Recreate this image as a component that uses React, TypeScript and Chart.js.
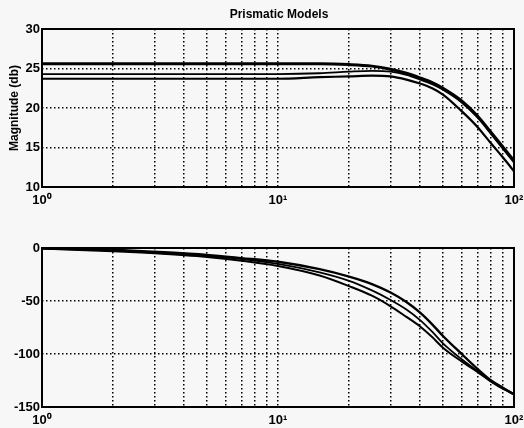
import React, { useEffect, useRef } from "react";
import { Chart, registerables } from "chart.js";

Chart.register(...registerables);

// ---- data ----
const freq = [1, 2, 3, 5, 7, 10, 15, 20, 25, 30, 35, 40, 45, 50, 60, 70, 80, 90, 100];

const magA = [25.6, 25.6, 25.6, 25.6, 25.6, 25.6, 25.6, 25.5, 25.3, 24.9, 24.4, 23.8, 23.2, 22.5, 20.9, 19.0, 16.9, 15.0, 13.3];
const magB = [24.3, 24.3, 24.3, 24.3, 24.3, 24.3, 24.4, 24.6, 24.7, 24.6, 24.2, 23.6, 23.0, 22.3, 20.7, 18.8, 16.7, 14.8, 13.1];
const magC = [23.7, 23.7, 23.7, 23.7, 23.7, 23.7, 23.9, 24.0, 24.1, 24.0, 23.6, 23.1, 22.5, 21.7, 19.6, 17.6, 15.5, 13.7, 12.0];

const phaseA = [0, -1.5, -3.5, -6.5, -9.5, -13, -20, -27, -34, -42, -51, -61, -72, -83, -100, -114, -125, -132, -138];
const phaseB = [-0.5, -2.5, -4.5, -7.5, -10.5, -15, -23, -31, -40, -49, -58, -68, -79, -90, -105, -116, -126, -132, -138];
const phaseC = [-0.5, -3, -5, -8.5, -12, -17, -26, -36, -45, -55, -65, -74, -84, -94, -107, -117, -126, -133, -138];

const xTicks = [1, 2, 3, 4, 5, 6, 7, 8, 9, 10, 20, 30, 40, 50, 60, 70, 80, 90, 100];
const xLabels: Record<number, string> = { 1: "10\u2070", 10: "10\u00B9", 100: "10\u00B2" };

const magTicks = [10, 15, 20, 25, 30];
const phaseTicks = [-150, -100, -50, 0];

const title = "Prismatic Models";
const magLabel = "Magnitude (db)";

const BG = "#f7f7f7";
const FONT = "'Liberation Sans', Arial, sans-serif";

function pts(ys: number[]) {
  return freq.map((f, i) => ({ x: f, y: ys[i] }));
}

function makeOptions(yMin: number, yMax: number, yTicks: number[], xAxisHeight: number, padTop: number) {
  return {
    responsive: false,
    animation: false as const,
    layout: { padding: { top: padTop, right: 10, left: 0, bottom: 0 } },
    plugins: { legend: { display: false }, title: { display: false }, tooltip: { enabled: false } },
    elements: { point: { radius: 0 } },
    scales: {
      x: {
        type: "logarithmic" as const,
        min: 1,
        max: 100,
        afterBuildTicks: (scale: any) => {
          scale.ticks = xTicks.map((v) => ({ value: v }));
        },
        afterFit: (scale: any) => {
          scale.height = xAxisHeight;
          scale.paddingLeft = 0;
          scale.paddingRight = 0;
        },
        ticks: {
          autoSkip: false,
          maxRotation: 0,
          padding: 6,
          color: "#000",
          font: { family: FONT, size: 13, weight: "bold" as const },
          callback: (v: any) => xLabels[Number(v)] ?? "",
        },
        grid: { color: "#000", lineWidth: 1.5, drawTicks: false, tickLength: 0 },
        border: { display: false, dash: [1.5, 2.5] },
      },
      y: {
        min: yMin,
        max: yMax,
        afterBuildTicks: (scale: any) => {
          scale.ticks = yTicks.map((v) => ({ value: v }));
        },
        afterFit: (scale: any) => {
          scale.width = 42;
          scale.paddingTop = 0;
          scale.paddingBottom = 0;
        },
        ticks: {
          padding: 2,
          color: "#000",
          font: { family: FONT, size: 13, weight: "bold" as const },
        },
        grid: { color: "#000", lineWidth: 1.5, drawTicks: false, tickLength: 0 },
        border: { display: false, dash: [1.5, 2.5] },
      },
    },
  };
}

const framePlugin = (extra?: (chart: any) => void) => ({
  id: "frame",
  beforeDraw(chart: any) {
    const ctx = chart.ctx;
    ctx.save();
    ctx.fillStyle = BG;
    ctx.fillRect(0, 0, chart.width, chart.height);
    ctx.restore();
  },
  afterDraw(chart: any) {
    const { ctx, chartArea } = chart;
    ctx.save();
    ctx.strokeStyle = "#000";
    ctx.lineWidth = 2;
    ctx.setLineDash([]);
    ctx.strokeRect(chartArea.left, chartArea.top, chartArea.right - chartArea.left, chartArea.bottom - chartArea.top);
    if (extra) extra(chart);
    ctx.restore();
  },
});

function ds(data: number[], w: number) {
  return {
    data: pts(data),
    borderColor: "#000",
    borderWidth: w,
    pointRadius: 0,
    fill: false,
    cubicInterpolationMode: "monotone" as const,
  };
}

export default function App() {
  const ref1 = useRef<HTMLCanvasElement>(null);
  const ref2 = useRef<HTMLCanvasElement>(null);

  useEffect(() => {
    const c1 = new Chart(ref1.current!, {
      type: "line",
      data: { datasets: [ds(magC, 2.2), ds(magB, 1.8), ds(magA, 3)] },
      options: makeOptions(10, 30, magTicks, 28, 29) as any,
      plugins: [
        framePlugin((chart) => {
          const ctx = chart.ctx;
          ctx.fillStyle = "#000";
          ctx.font = `bold 12px ${FONT}`;
          ctx.textAlign = "center";
          ctx.textBaseline = "middle";
          ctx.fillText(title, 279, 15);
          ctx.save();
          ctx.translate(15, 108);
          ctx.rotate(-Math.PI / 2);
          ctx.fillText(magLabel, 0, 0);
          ctx.restore();
        }),
      ],
    });
    const c2 = new Chart(ref2.current!, {
      type: "line",
      data: { datasets: [ds(phaseC, 2), ds(phaseB, 1.8), ds(phaseA, 2.4)] },
      options: makeOptions(-150, 0, phaseTicks, 21, 33) as any,
      plugins: [framePlugin()],
    });
    return () => {
      c1.destroy();
      c2.destroy();
    };
  }, []);

  return (
    <div style={{ position: "fixed", left: 0, top: 0, width: 524, height: 428, background: BG }}>
      <canvas ref={ref1} width={524} height={215} style={{ position: "absolute", left: 0, top: 0 }} />
      <canvas ref={ref2} width={524} height={213} style={{ position: "absolute", left: 0, top: 215 }} />
    </div>
  );
}
